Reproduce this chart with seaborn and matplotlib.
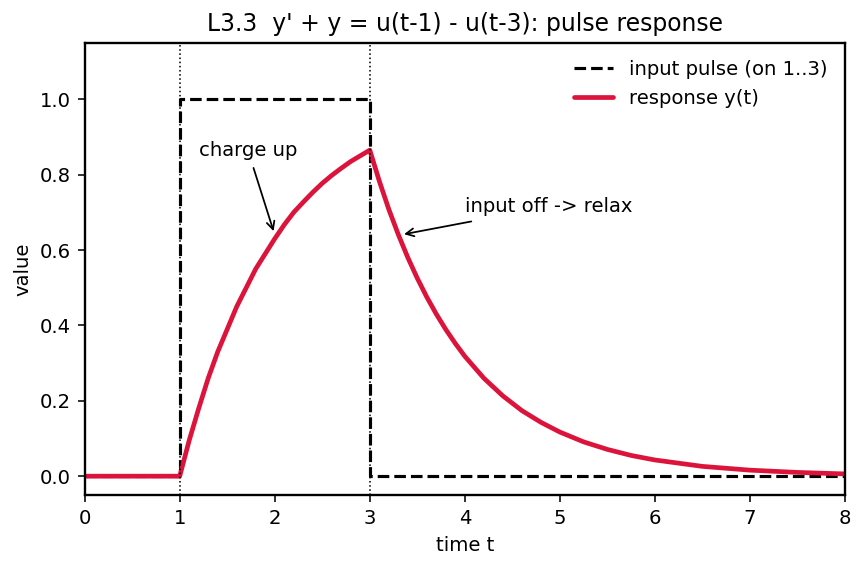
import seaborn as sns
import pandas as pd
import matplotlib.pyplot as plt

# input pulse (step corners)
pulse_t = [0, 1, 1, 3, 3, 8]
pulse_u = [0, 0, 1, 1, 0, 0]

# response
resp_t = [0, 0.5, 1.0, 1.1, 1.2, 1.3, 1.4, 1.5, 1.6, 1.7, 1.8, 1.9, 2.0,
          2.1, 2.2, 2.3, 2.4, 2.5, 2.6, 2.7, 2.8, 2.9, 3.0,
          3.1, 3.2, 3.3, 3.4, 3.5, 3.6, 3.7, 3.8, 3.9, 4.0,
          4.2, 4.4, 4.6, 4.8, 5.0, 5.25, 5.5, 5.75, 6.0, 6.5, 7.0, 7.5, 8.0]
resp_y = [0, 0, 0, 0.095, 0.18, 0.26, 0.33, 0.39, 0.45, 0.50, 0.55, 0.59, 0.63,
          0.667, 0.70, 0.727, 0.753, 0.777, 0.798, 0.817, 0.835, 0.85, 0.865,
          0.783, 0.708, 0.641, 0.58, 0.525, 0.475, 0.43, 0.389, 0.352, 0.318,
          0.26, 0.213, 0.174, 0.143, 0.117, 0.091, 0.071, 0.055, 0.043, 0.026, 0.016, 0.010, 0.006]

sns.set_style("ticks", {"text.color": "black", "axes.labelcolor": "black",
                        "xtick.color": "black", "ytick.color": "black",
                        "axes.edgecolor": "black"})
plt.rcParams["font.family"] = ["DejaVu Sans"]

fig, ax = plt.subplots(figsize=(864 / 141, 569 / 141), dpi=141)

pulse = pd.DataFrame({"t": pulse_t, "u": pulse_u})
resp = pd.DataFrame({"t": resp_t, "y": resp_y})

sns.lineplot(data=pulse, x="t", y="u", ax=ax, color="black", linestyle="--",
             linewidth=1.6, label="input pulse (on 1..3)", sort=False, estimator=None)
sns.lineplot(data=resp, x="t", y="y", ax=ax, color="crimson",
             linewidth=2.4, label="response y(t)", sort=False, estimator=None)

for xv in [1, 3]:
    ax.axvline(xv, color="black", linestyle=":", linewidth=0.8)

ax.annotate("charge up", xy=(2.0, 0.64), xytext=(1.2, 0.85),
            arrowprops=dict(arrowstyle="->", color="black", lw=0.9), fontsize=10)
ax.annotate("input off -> relax", xy=(3.32, 0.64), xytext=(4.0, 0.70),
            arrowprops=dict(arrowstyle="->", color="black", lw=0.9), fontsize=10)

ax.set_xlim(0, 8)
ax.set_ylim(-0.05, 1.15)
ax.set_xlabel("time t", fontsize=10)
ax.set_ylabel("value", fontsize=10)
ax.tick_params(labelsize=10)
ax.set_title("L3.3  y' + y = u(t-1) - u(t-3): pulse response", fontsize=12)
for s in ax.spines.values():
    s.set_visible(True)
    s.set_linewidth(1.2)
    s.set_color("black")
ax.legend(frameon=False, loc="upper right", fontsize=10)

fig.subplots_adjust(left=0.098, right=0.978, top=0.925, bottom=0.13)
fig.savefig("out.png", dpi=141)
